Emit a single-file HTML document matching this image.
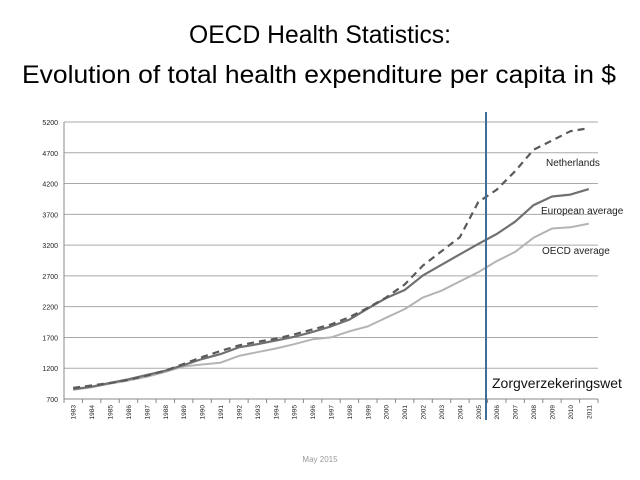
<!DOCTYPE html>
<html><head><meta charset="utf-8"><style>
html,body{margin:0;padding:0;background:#fff;}
svg{display:block;font-family:"Liberation Sans",sans-serif;}
</style></head><body>
<svg id="s" width="640" height="480" viewBox="0 0 640 480" xmlns="http://www.w3.org/2000/svg">
<text x="320" y="43" font-size="25" text-anchor="middle" textLength="262" lengthAdjust="spacingAndGlyphs" fill="#000">OECD Health Statistics:</text>
<text x="319" y="83" font-size="25" text-anchor="middle" textLength="594" lengthAdjust="spacingAndGlyphs" fill="#000">Evolution of total health expenditure per capita in $</text>
<text x="320" y="462" font-size="8" text-anchor="middle" fill="#999">May 2015</text>
<g id="g"></g>
</svg>
<script>
var g=document.getElementById('g'),ns='http://www.w3.org/2000/svg';
function el(t,a,txt){var e=document.createElementNS(ns,t);for(var k in a)e.setAttribute(k,a[k]);if(txt!=null)e.textContent=txt;g.appendChild(e);return e;}
var L=64,R=598,T=122,B=399,n=29,cw=(R-L)/n;
function Y(v){return B-(v-700)/4500*(B-T);}
function X(i){return L+cw*(i+0.5);}
for(var v=700;v<=5200;v+=500){var y=Y(v);
 if(v>700)el('line',{x1:L,x2:R,y1:y,y2:y,stroke:'#aaa','stroke-width':1});
 el('text',{x:L-6,y:y+3,'font-size':7,'text-anchor':'end',fill:'#222'},v);}
el('line',{x1:L,x2:L,y1:T,y2:B,stroke:'#888'});
el('line',{x1:L,x2:R,y1:B,y2:B,stroke:'#888'});
for(var i=0;i<=n;i++){var x=L+cw*i;el('line',{x1:x,x2:x,y1:B,y2:B+4,stroke:'#888'});}
for(var i=0;i<n;i++){var x=X(i)+2.5,y=B+6;el('text',{x:x,y:y,'font-size':6.5,'text-anchor':'end',transform:'rotate(-90 '+x+' '+y+')',fill:'#222'},1983+i);}
var nl=[880,920,960,1010,1080,1160,1270,1380,1480,1570,1630,1680,1750,1830,1910,2030,2180,2350,2560,2870,3100,3330,3900,4100,4400,4750,4900,5050,5100];
var eu=[860,900,960,1020,1090,1160,1250,1350,1430,1540,1590,1650,1710,1790,1880,1990,2170,2340,2470,2710,2880,3050,3220,3380,3580,3850,3990,4020,4110];
var oe=[850,890,950,1000,1060,1140,1230,1260,1290,1400,1460,1520,1590,1670,1700,1800,1880,2020,2160,2350,2460,2610,2760,2940,3090,3320,3470,3490,3550];
function pl(d,c,w,da){var p=d.map(function(v,i){return X(i).toFixed(1)+','+Y(v).toFixed(1)}).join(' ');var a={points:p,fill:'none',stroke:c,'stroke-width':w,'stroke-linejoin':'round'};if(da)a['stroke-dasharray']=da;el('polyline',a);}
pl(oe,'#b4b4b4',2);
pl(eu,'#707070',2.2);
pl(nl,'#5a5a5a',2.2,'7,5');
el('line',{x1:486,x2:486,y1:112,y2:420,stroke:'#3f6f96','stroke-width':2});
el('text',{x:546,y:166,'font-size':10,fill:'#222'},'Netherlands');
el('text',{x:541,y:214,'font-size':10,fill:'#222'},'European average');
el('text',{x:542,y:254,'font-size':10,fill:'#222'},'OECD average');
el('text',{x:492,y:388,'font-size':14,fill:'#111'},'Zorgverzekeringswet');
</script>
</body></html>
